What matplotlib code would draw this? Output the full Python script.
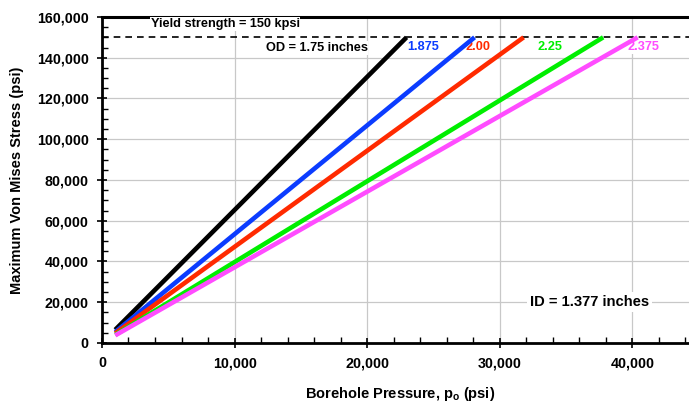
"""
Von Mises stress vs borehole pressure for several tube ODs.
"""

import matplotlib

matplotlib.use("Agg")
import matplotlib.pyplot as plt
from matplotlib.ticker import MultipleLocator, FuncFormatter

plt.rcParams["font.family"] = ["Liberation Sans", "DejaVu Sans"]
plt.rcParams["font.weight"] = "bold"
plt.rcParams["mathtext.fontset"] = "custom"
plt.rcParams["mathtext.rm"] = "Liberation Sans:bold"
plt.rcParams["mathtext.bf"] = "Liberation Sans:bold"

# data
od_labels = ["OD = 1.75 inches", "1.875", "2.00", "2.25", "2.375"]
line_colors = ["#000000", "#0b3cff", "#ff2a00", "#00ee00", "#ff4cff"]
p_start = [1000, 1000, 1000, 1000, 1000]
p_end = [22970, 28100, 31800, 37800, 40400]
s_start = [6500, 5400, 4750, 4000, 3750]
s_end = [150000, 150000, 150000, 150000, 150000]
label_x = [16200, 24250, 28350, 33800, 40800]
label_y = [144800, 145300, 145300, 145300, 145300]
yield_stress = 150000

fig = plt.figure(figsize=(6.89, 4.04), dpi=100)
ax = fig.add_axes([0.148, 0.151, 0.866, 0.807])

for ps, pe, ss, se, c in zip(p_start, p_end, s_start, s_end, line_colors):
    ax.plot([ps, pe], [ss, se], color=c, linewidth=3.3, solid_capstyle="butt", zorder=5)

ax.axhline(yield_stress, color="black", linestyle=(0, (4, 3)), linewidth=1.2, zorder=2)

# 線ラベル
for txt, x, y, c in zip(od_labels, label_x, label_y, line_colors):
    ax.text(x, y, txt, color=c, fontsize=9.2, fontweight="bold",
            ha="center", va="center", zorder=4,
            bbox=dict(facecolor="white", edgecolor="none", pad=0.5))

ax.text(9300, 156600, "Yield strength = 150 kpsi", fontsize=9.2, fontweight="bold",
        ha="center", va="center", zorder=4,
        bbox=dict(facecolor="white", edgecolor="none", pad=0.5))
ax.text(36760, 20100, "ID = 1.377 inches", fontsize=10.6, fontweight="bold",
        ha="center", va="center", zorder=4,
        bbox=dict(facecolor="white", edgecolor="none", pad=2))

ax.set_xlim(0, 45000)
ax.set_ylim(0, 160000)
ax.xaxis.set_major_locator(MultipleLocator(10000))
ax.xaxis.set_minor_locator(MultipleLocator(2000))
ax.yaxis.set_major_locator(MultipleLocator(20000))
ax.yaxis.set_minor_locator(MultipleLocator(5000))
comma = FuncFormatter(lambda v, _: f"{v:,.0f}")
ax.xaxis.set_major_formatter(comma)
ax.yaxis.set_major_formatter(comma)

ax.grid(True, which="major", color="#c8c8c8", linewidth=0.9, zorder=0)
ax.set_axisbelow(True)

ax.tick_params(axis="both", which="major", direction="inout", length=7, width=1.2,
               labelsize=10.3)
ax.tick_params(axis="both", which="minor", direction="in", length=4, width=1.0)
ax.tick_params(axis="x", which="major", pad=6)
ax.tick_params(axis="y", which="major", pad=6)
for lab in ax.get_xticklabels() + ax.get_yticklabels():
    lab.set_fontweight("bold")

ax.spines["left"].set_linewidth(2)
ax.spines["bottom"].set_linewidth(2)
ax.spines["top"].set_linewidth(2.2)
ax.spines["right"].set_linewidth(2)

ax.set_xlabel(r"Borehole Pressure, p$_{\mathrm{o}}$ (psi)", fontsize=10.5,
              fontweight="bold", labelpad=11)
ax.set_ylabel("Maximum Von Mises Stress (psi)", fontsize=10.5, fontweight="bold",
              labelpad=9)

fig.savefig("out.png", dpi=100)
plt.close(fig)
